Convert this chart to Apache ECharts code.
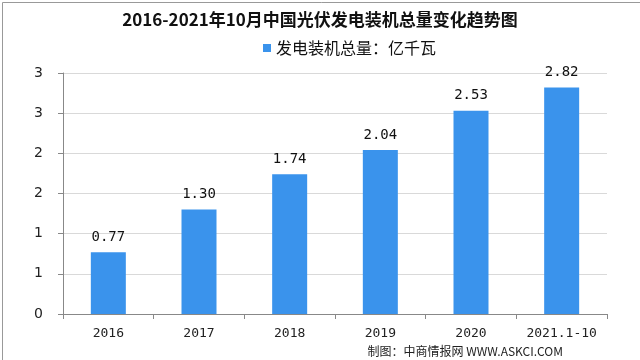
<!DOCTYPE html>
<html><head><meta charset="utf-8">
<script src="https://cdn.jsdelivr.net/npm/echarts@6/dist/echarts.min.js"></script>
<style>html,body{margin:0;padding:0;background:#fff}#c{width:640px;height:360px}</style>
</head><body><div id="c"></div>
<script>
var categories = ['2016','2017','2018','2019','2020','2021.1-10'];
var capacity = [0.77, 1.30, 1.74, 2.04, 2.53, 2.82];
var seriesName = '发电装机总量：亿千瓦';
var titleText = '2016-2021年10月中国光伏发电装机总量变化趋势图';
var sourceText = '制图：中商情报网 WWW.ASKCI.COM';

var chart = echarts.init(document.getElementById('c'));
chart.setOption({
  backgroundColor: '#fff',
  animation: false,
  title: {
    text: titleText, left: 'center', top: 6,
    textStyle: {fontSize: 17, fontWeight: 'bold', color: '#111', fontFamily: 'Noto Sans CJK SC'}
  },
  legend: {
    data: [seriesName], top: 35, left: 258,
    itemWidth: 8, itemHeight: 8, itemGap: 2,
    icon: 'rect',
    textStyle: {fontSize: 16, color: '#111', fontFamily: 'Noto Sans CJK SC', padding: [0,0,0,0]}
  },
  grid: {left: 63, right: 33, top: 73, bottom: 46, containLabel: false},
  xAxis: {
    type: 'category', data: categories,
    axisLine: {lineStyle: {color: '#888'}},
    axisTick: {show: true, alignWithLabel: false, length: 5, lineStyle: {color: '#888'}},
    axisLabel: {interval: 0, fontSize: 13, color: '#222', margin: 13, fontFamily: 'DejaVu Sans Mono'}
  },
  yAxis: {
    type: 'value', min: 0, max: 3, interval: 0.5,
    axisLine: {show: true, lineStyle: {color: '#888'}},
    axisTick: {show: true, length: 5, lineStyle: {color: '#888'}},
    splitLine: {lineStyle: {color: '#d9d9d9'}},
    axisLabel: {fontSize: 14, color: '#222', margin: 20, fontFamily: 'DejaVu Sans',
      formatter: function(v){ return v.toFixed(0); }}
  },
  series: [{
    name: seriesName, type: 'bar', data: capacity, barWidth: 35,
    itemStyle: {color: '#3a93ec'},
    label: {show: true, position: 'top', distance: 8, fontSize: 14, color: '#111',
      fontFamily: 'DejaVu Sans Mono', formatter: function(p){ return p.value.toFixed(2); }}
  }],
  graphic: [
    {type: 'text', right: 77, bottom: 3, style: {text: sourceText, fontSize: 12, fill: '#222', fontFamily: 'Noto Sans CJK SC'}},
    {type: 'rect', left: 0, top: 0, shape: {x: 0.5, y: 0.5, width: 639, height: 359}, style: {fill: null, stroke: '#999', lineWidth: 1}}
  ]
});
</script></body></html>
